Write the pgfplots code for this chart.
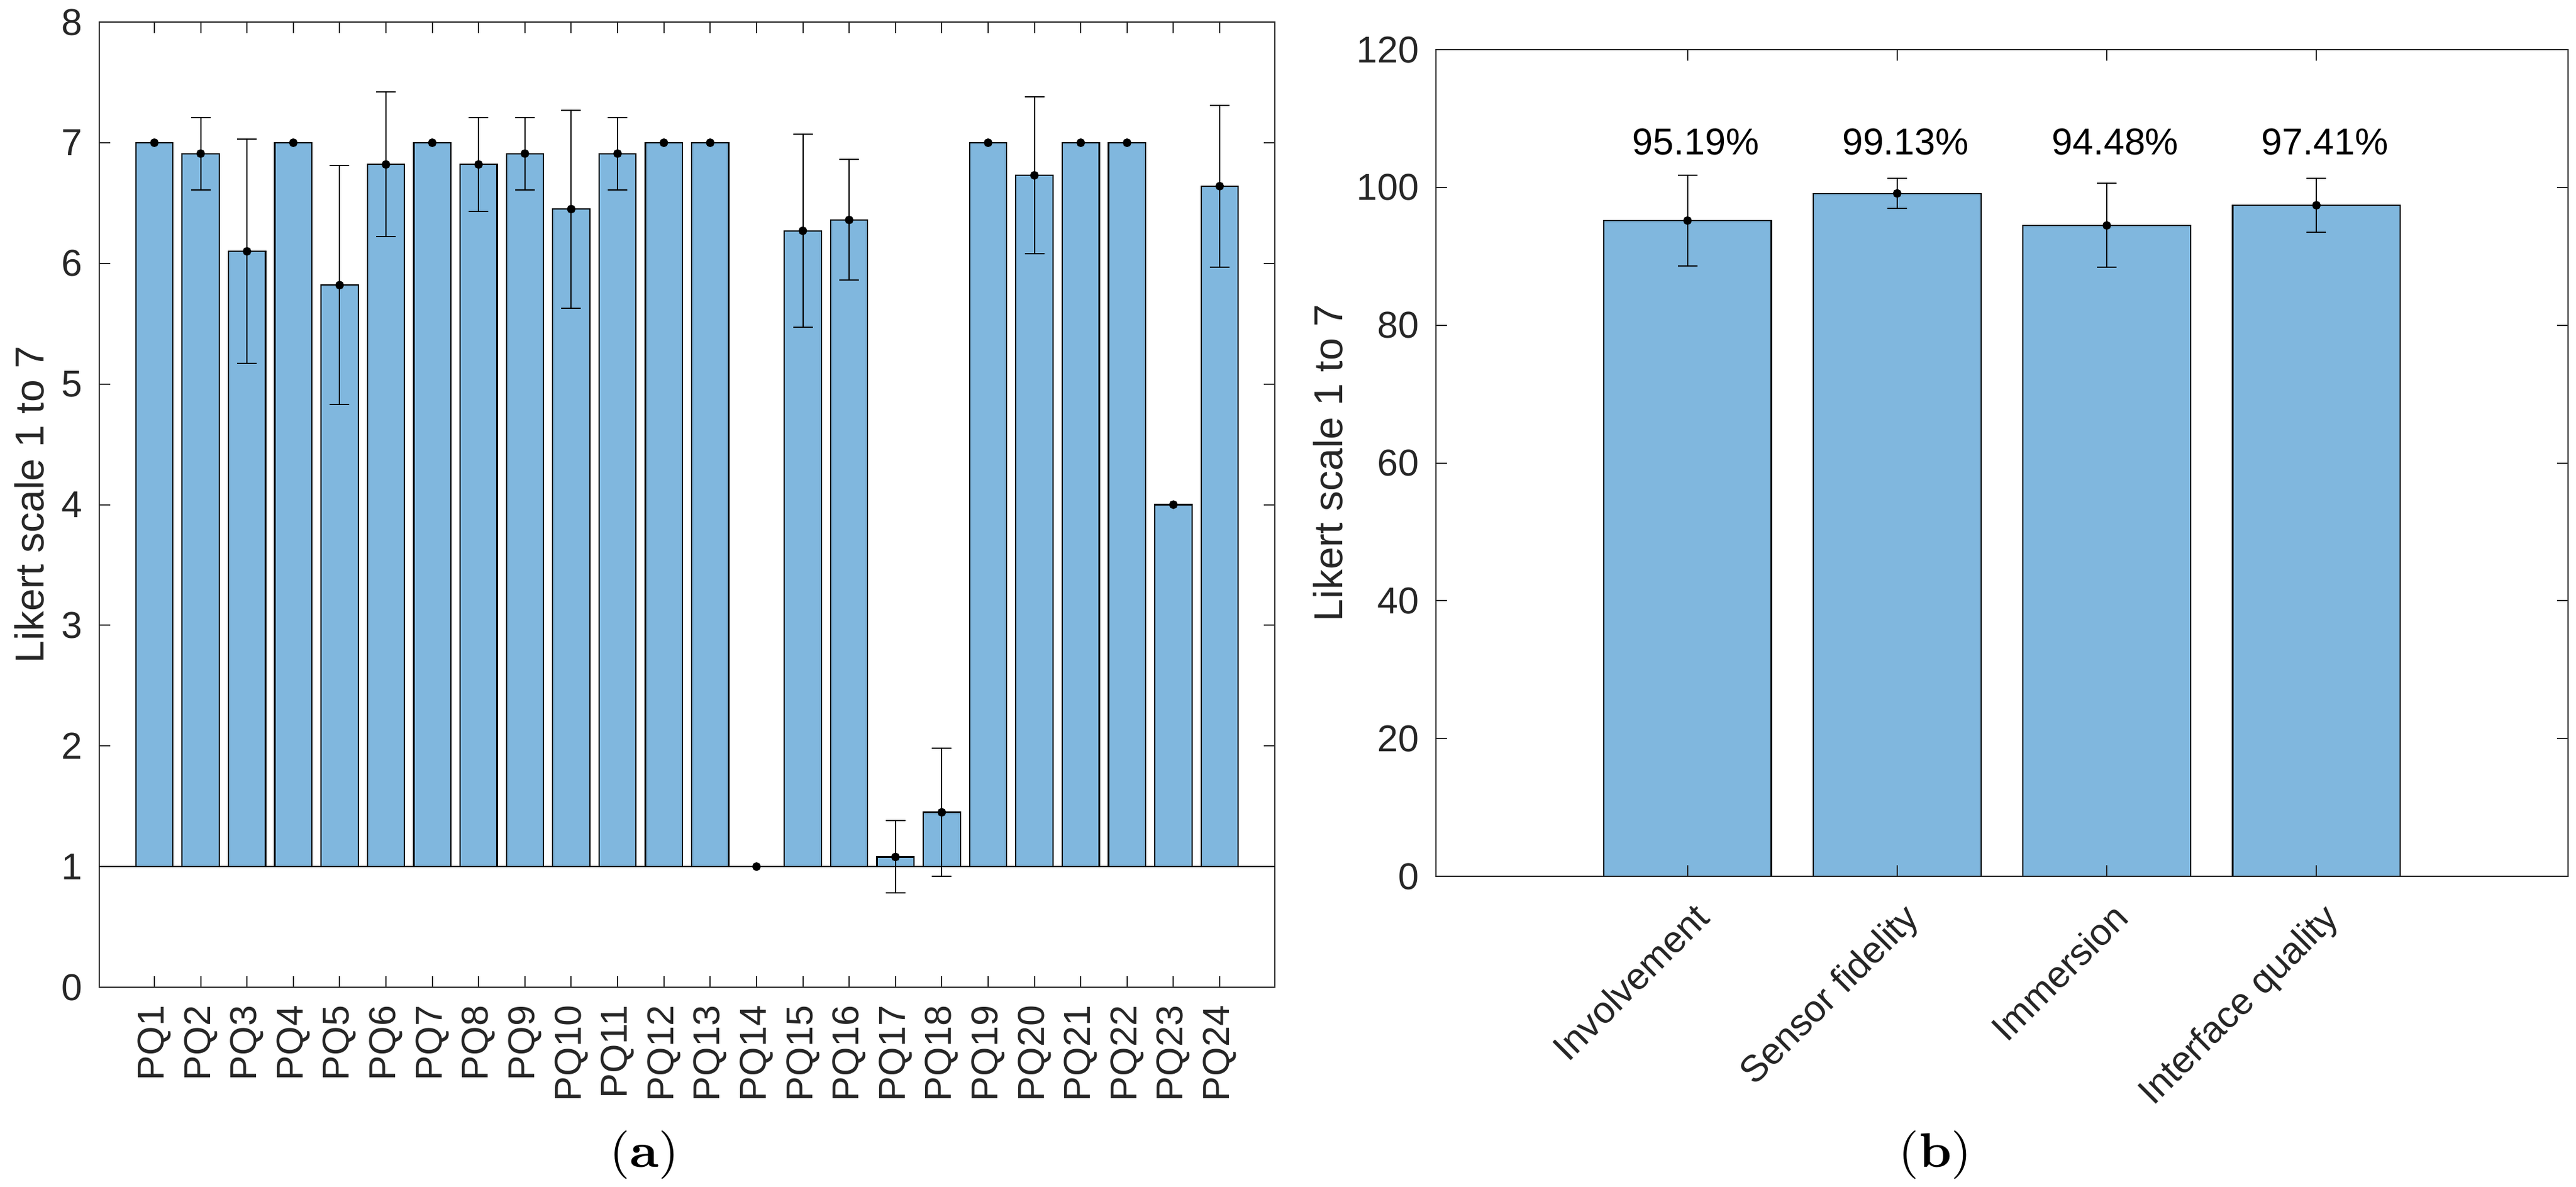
\documentclass[border=0pt]{standalone}
\usepackage{fontspec}
\newfontfamily\arialf{Liberation Sans}
\usepackage{pgfplots}
\usepackage{pgfplotstable}
\pgfplotsset{compat=1.18}
\definecolor{barblue}{RGB}{128,183,222}
\definecolor{axgray}{RGB}{38,38,38}

\pgfplotstableread{
x b m e
1 1 7.00 0.00
2 1 6.91 0.30
3 1 6.10 0.93
4 1 7.00 0.00
5 1 5.82 0.99
6 1 6.82 0.60
7 1 7.00 0.00
8 1 6.82 0.39
9 1 6.91 0.30
10 1 6.45 0.82
11 1 6.91 0.30
12 1 7.00 0.00
13 1 7.00 0.00
14 1 1.00 0.00
15 1 6.27 0.80
16 1 6.36 0.50
17 1 1.08 0.30
18 1 1.45 0.53
19 1 7.00 0.00
20 1 6.73 0.65
21 1 7.00 0.00
22 1 7.00 0.00
23 1 4.00 0.00
24 1 6.64 0.67
}\pqdata

\pgfplotstableread{
x m e
1 95.19 6.6
2 99.13 2.2
3 94.48 6.1
4 97.41 3.9
}\dimdata

\pgfplotsset{
  mystyle/.style={
    scale only axis,
    axis line style={axgray, line width=0.2pt},
    tick style={axgray, line width=0.2pt},
    major tick length=1.8pt,
    tick align=inside,
    ticklabel style={font=\arialf\fontsize{6.1pt}{7pt}\selectfont, text=axgray},
    /pgf/number format/assume math mode=true,
    yticklabel style={anchor=east, inner sep=0pt, xshift=-2.6pt},
  },
  errstyle/.style={
    only marks, mark=*, mark size=0.5pt, black,
    error bars/.cd, y dir=both, y explicit,
    error bar style={line width=0.2pt, black},
    error mark options={rotate=90, black, line width=0.2pt, mark size=1.6pt},
  }
}

\begin{document}
\begin{tikzpicture}
\useasboundingbox (0,0) rectangle (420.5pt,193.6pt);

% ---------- (a) left chart ----------
\begin{axis}[mystyle,
  at={(16.2pt,32.5pt)}, anchor=south west,
  width=191.9pt, height=157.5pt,
  xmin=-0.19, xmax=25.19, ymin=0, ymax=8,
  ybar stacked, bar width=0.8,
  axis on top,
  xtick={1,...,24},
  xticklabels={PQ1,PQ2,PQ3,PQ4,PQ5,PQ6,PQ7,PQ8,PQ9,PQ10,PQ11,PQ12,PQ13,PQ14,PQ15,PQ16,PQ17,PQ18,PQ19,PQ20,PQ21,PQ22,PQ23,PQ24},
  xticklabel style={yshift=-2.8pt, rotate=90, anchor=east, inner sep=0pt},
  ytick={0,1,...,8},
  ylabel={Likert scale 1 to 7},
  every axis y label/.style={at={(axis description cs:-0.0469,0.5)}, rotate=90, anchor=base,
    font=\arialf\fontsize{6.6pt}{8pt}\selectfont, text=axgray},
]
\addplot[draw=none, fill=none] table[x=x, y=b] {\pqdata};
\addplot[fill=barblue, draw=black, line width=0.22pt] table[x=x, y expr=\thisrow{m}-\thisrow{b}] {\pqdata};
\end{axis}

\begin{axis}[
  at={(16.2pt,32.5pt)}, anchor=south west,
  scale only axis, width=191.9pt, height=157.5pt,
  xmin=-0.19, xmax=25.19, ymin=0, ymax=8,
  hide axis,
]
\addplot[black, line width=0.2pt] coordinates {(-0.19,1) (25.19,1)};
\addplot[errstyle] table[x=x, y=m, y error=e] {\pqdata};
\end{axis}

% ---------- (b) right chart ----------
\begin{axis}[mystyle,
  at={(234.4pt,50.6pt)}, anchor=south west,
  width=184.8pt, height=134.9pt,
  xmin=-0.2, xmax=5.2, ymin=0, ymax=120,
  axis on top,
  xtick={1,2,3,4},
  xticklabels={Involvement,Sensor fidelity,Immersion,Interface quality},
  xticklabel style={xshift=4pt, yshift=-7pt, rotate=45, anchor=base east, inner sep=0pt},
  ytick={0,20,...,120},
  ylabel={Likert scale 1 to 7},
  every axis y label/.style={at={(axis description cs:-0.0828,0.5)}, rotate=90, anchor=base,
    font=\arialf\fontsize{6.6pt}{8pt}\selectfont, text=axgray},
]
\addplot[ybar, bar width=0.8, bar shift=0pt, fill=barblue, draw=black, line width=0.22pt] table[x=x, y=m] {\dimdata};
\addplot[errstyle] table[x=x, y=m, y error=e] {\dimdata};
\node[font=\arialf\fontsize{6.1pt}{7pt}\selectfont, black, inner sep=0pt] at (axis cs:1.04,106.6) {95.19\%};
\node[font=\arialf\fontsize{6.1pt}{7pt}\selectfont, black, inner sep=0pt] at (axis cs:2.04,106.6) {99.13\%};
\node[font=\arialf\fontsize{6.1pt}{7pt}\selectfont, black, inner sep=0pt] at (axis cs:3.04,106.6) {94.48\%};
\node[font=\arialf\fontsize{6.1pt}{7pt}\selectfont, black, inner sep=0pt] at (axis cs:4.04,106.6) {97.41\%};
\end{axis}

\node[font=\fontsize{7.9pt}{9pt}\selectfont, inner sep=0pt] at (105.2pt,5.1pt) {(\textbf{a})};
\node[font=\fontsize{7.9pt}{9pt}\selectfont, inner sep=0pt] at (315.9pt,5.1pt) {(\textbf{b})};
\end{tikzpicture}
\end{document}
